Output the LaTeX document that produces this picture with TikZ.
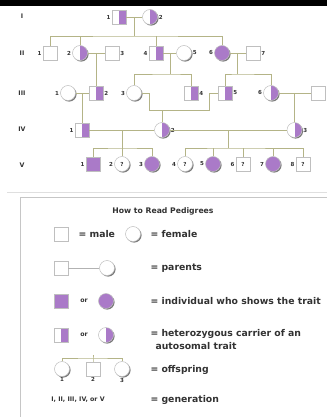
\documentclass[tikz,border=0pt]{standalone}
\usepackage{fontspec}
\setsansfont{DejaVu Sans}
\usetikzlibrary{shadows,calc}
\definecolor{trait}{RGB}{170,122,200}
\definecolor{kinline}{RGB}{180,180,135}
\definecolor{ink}{RGB}{50,50,50}

\begin{document}
\begin{tikzpicture}[
        x=1pt, y=-1pt,
        every node/.style={font=\sffamily\bfseries\fontsize{5.5}{6}\selectfont, text=ink},
        sym/.style={draw=gray!50, fill=white, inner sep=0pt, line width=0.5pt,
            drop shadow={shadow xshift=1.1pt, shadow yshift=-1.1pt, fill=black!70, opacity=0.75}},
        male/.style={sym, rectangle, minimum size=14pt},
        female/.style={sym, circle, minimum size=15pt},
        affected/.style={fill=trait},
        carrier/.style={path picture={\fill[trait] (path picture bounding box.north) rectangle (path picture bounding box.south east);}},
        num/.style={font=\sffamily\bfseries\fontsize{5.5}{6}\selectfont, inner sep=1pt},
        gen/.style={font=\sffamily\bfseries\fontsize{6.3}{7}\selectfont},
        key/.style={font=\sffamily\bfseries\fontsize{9.3}{11}\selectfont, anchor=west, align=left},
        kin/.style={kinline, line width=0.8pt}
    ]
        \useasboundingbox (0,0) rectangle (327,417);

        % Cornice
        \fill[black] (0,0) rectangle (327,6);
        \draw[gray!25] (7,192) -- (327,192);
        \draw[gray!45, line width=0.6pt] (20,417) |- (327,197);

        % Generazioni
        \node[gen] (gI) at (22,16) {I};
        \node[gen] (gII) at (22,53) {II};
        \node[gen] (gIII) at (22,93) {III};
        \node[gen] (gIV) at (22,129) {IV};
        \node[gen] (gV) at (22,165) {V};

        % Generazione I
        \node[male, carrier, label={[num]left:1}] (i1) at (119,17) {};
        \node[female, carrier, label={[num]right:2}] (i2) at (150,17) {};

        % Generazione II
        \node[male, label={[num]left:1}] (ii1) at (50,53) {};
        \node[female, carrier, label={[num]left:2}] (ii2) at (80,53) {};
        \node[male, label={[num]right:3}] (ii3) at (112,53) {};
        \node[male, carrier, label={[num]left:4}] (ii4) at (156,53) {};
        \node[female, label={[num]right:5}] (ii5) at (184,53) {};
        \node[female, affected, label={[num]left:6}] (ii6) at (222,53) {};
        \node[male, label={[num]right:7}] (ii7) at (253,53) {};

        % Generazione III
        \node[female, label={[num]left:1}] (iii1) at (68,93) {};
        \node[male, carrier, label={[num]right:2}] (iii2) at (96,93) {};
        \node[female, label={[num]left:3}] (iii3) at (134,93) {};
        \node[male, carrier, label={[num]right:4}] (iii4) at (191,93) {};
        \node[male, carrier, label={[num]right:5}] (iii5) at (225,93) {};
        \node[female, carrier, label={[num]left:6}] (iii6) at (271,93) {};
        \node[male] (iii7) at (318,93) {};

        % Generazione IV
        \node[male, carrier, label={[num]left:1}] (iv1) at (82,130) {};
        \node[female, carrier, label={[num]right:2}] (iv2) at (162,130) {};
        \node[female, carrier, label={[num]right:3}] (iv3) at (294.5,130) {};

        % Generazione V
        \node[male, affected, label={[num]left:1}] (v1) at (93,164) {};
        \node[female, label={[num]left:2}] (v2) at (122,164) {?};
        \node[female, affected, label={[num]left:3}] (v3) at (152,164) {};
        \node[female, label={[num]left:4}] (v4) at (185,164) {?};
        \node[female, affected, label={[num]left:5}] (v5) at (213,164) {};
        \node[male, label={[num]left:6}] (v6) at (243,164) {?};
        \node[female, affected, label={[num]left:7}] (v7) at (273,164) {};
        \node[male, label={[num]left:8}] (v8) at (303,164) {?};

        % Archi I -> II
        \draw[kin] (i1) -- (i2);
        \coordinate (m1) at ($(i1)!0.5!(i2)$);
        \draw[kin] (m1) -- ++(0,19) coordinate (s1);
        \draw[kin] (ii1.north) |- (s1) -| (ii6.north);
        \draw[kin] (ii2.north) -- (ii2.north |- s1);
        \draw[kin] (ii4.north) -- (ii4.north |- s1);

        % Archi II -> III
        \draw[kin] (ii2) -- (ii3);
        \coordinate (m2) at ($(ii2)!0.5!(ii3)$);
        \draw[kin] (m2) -- (iii2.north);
        \draw[kin] (ii4) -- (ii5);
        \coordinate (m3) at ($(ii4)!0.5!(ii5)$);
        \draw[kin] (m3) -- ++(0,21) coordinate (s3);
        \draw[kin] (iii3.north) |- (s3) -| (iii4.north);
        \draw[kin] (ii6) -- (ii7);
        \coordinate (m5) at ($(ii6)!0.5!(ii7)$);
        \draw[kin] (m5) -- ++(0,21) coordinate (s5);
        \draw[kin] (iii5.north) |- (s5) -| (iii6.north);

        % Archi III -> IV
        \draw[kin] (iii1) -- (iii2);
        \coordinate (m4) at ($(iii1)!0.5!(iii2)$);
        \draw[kin] (m4) -- (iv1.north);
        \draw[kin] (iii3.east) -- ++(8,0) -- ++(0,17) coordinate (u1) -- ++(60,0) -- ++(0,-17) -- (iii5.west);
        \draw[kin] (iv2.north) -- (iv2.north |- u1);
        \draw[kin] (iii6) -- (iii7);
        \coordinate (m6) at ($(iii6)!0.5!(iii7)$);
        \draw[kin] (m6) -- (iv3.north);

        % Archi IV -> V
        \draw[kin] (iv1) -- (iv2);
        \coordinate (m7) at ($(iv1)!0.5!(iv2)$);
        \draw[kin] (m7) -- (v2.north);
        \coordinate (s7) at ($(m7)+(0,18)$);
        \draw[kin] (v1.north) |- (s7) -| (v3.north);
        \draw[kin] (iv2) -- (iv3);
        \coordinate (m8) at ($(iv2)!0.5!(iv3)$);
        \draw[kin] (m8) -- ++(0,18) coordinate (s8);
        \draw[kin] (v4.north) |- (s8) -| (v8.north);
        \foreach \n in {v5,v6,v7}
            \draw[kin] (\n.north) -- (\n.north |- s8);

        % Legenda
        \node[key, anchor=center, font=\sffamily\bfseries\fontsize{7.7}{9}\selectfont] (title) at (163,211) {How to Read Pedigrees};

        \node[male] (km) at (61,234) {};
        \node[key] (kmt) at (75,234) {= male};
        \node[female] (kf) at (133,234) {};
        \node[key] (kft) at (147,234) {= female};

        \node[male] (kp1) at (61,268) {};
        \node[female] (kp2) at (107,268) {};
        \draw[gray!60, line width=0.6pt] (kp1) -- (kp2);
        \node[key] (kpt) at (147,268) {= parents};

        \node[male, affected] (ka1) at (61,301) {};
        \node[gen] (kaor) at (84,301) {or};
        \node[female, affected] (ka2) at (106,301) {};
        \node[key] (kat) at (147,301) {= individual who shows the trait};

        \node[male, carrier] (kc1) at (61,335) {};
        \node[gen] (kcor) at (84,335) {or};
        \node[female, carrier] (kc2) at (106,335) {};
        \node[key] (kct) at (147,340) {= heterozygous carrier of an\\[2pt]\hspace*{5pt}autosomal trait};

        \node[female, label={[num]below:1}] (ko1) at (62,369) {};
        \node[male, label={[num]below:2}] (ko2) at (93,369) {};
        \node[female, label={[num]below:3}] (ko3) at (122,369) {};
        \coordinate (ks) at (93,358);
        \draw[kin] (ko1.north) |- (ks) -| (ko3.north);
        \draw[kin] (ko2.north) -- (ks) -- ++(0,-3);
        \node[key] (kot) at (147,370) {= offspring};

        \node[gen] (kg) at (78,400) {I, II, III, IV, or V};
        \node[key] (kgt) at (147,400) {= generation};

    \end{tikzpicture}
\end{document}
